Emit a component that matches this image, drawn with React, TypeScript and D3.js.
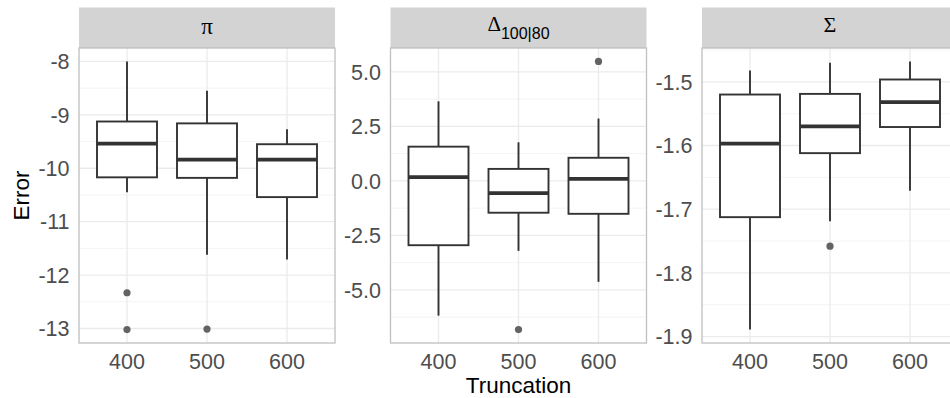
import React from "react";
import * as d3 from "d3";

// ---- Data ----
const truncations = ["400", "500", "600"];

// box stats per truncation: [lowerWhisker, q1, median, q3, upperWhisker]
const piBoxes = [
  [-10.45, -10.17, -9.54, -9.125, -8.0],
  [-11.62, -10.18, -9.84, -9.16, -8.55],
  [-11.71, -10.54, -9.84, -9.55, -9.27],
];
const piOutliers = [[-12.33, -13.02], [-13.01], []];
const piTicks = [-13, -12, -11, -10, -9, -8];

const deltaBoxes = [
  [-6.18, -2.95, 0.17, 1.57, 3.65],
  [-3.21, -1.46, -0.56, 0.55, 1.77],
  [-4.63, -1.51, 0.09, 1.06, 2.86],
];
const deltaOutliers = [[], [-6.82], [5.48]];
const deltaTicks = [-5, -2.5, 0, 2.5, 5];

const sigmaBoxes = [
  [-1.889, -1.7125, -1.597, -1.52, -1.4823],
  [-1.719, -1.612, -1.57, -1.519, -1.47],
  [-1.671, -1.571, -1.532, -1.4964, -1.468],
];
const sigmaOutliers = [[], [-1.758], []];
const sigmaTicks = [-1.9, -1.8, -1.7, -1.6, -1.5];

const facets = [
  { key: "pi", boxes: piBoxes, outliers: piOutliers, ticks: piTicks, fmt: (v: number) => d3.format("d")(v).replace("−", "-") },
  { key: "delta", boxes: deltaBoxes, outliers: deltaOutliers, ticks: deltaTicks, fmt: (v: number) => d3.format(".1f")(v).replace("−", "-") },
  { key: "sigma", boxes: sigmaBoxes, outliers: sigmaOutliers, ticks: sigmaTicks, fmt: (v: number) => d3.format(".1f")(v).replace("−", "-") },
];

// ---- Layout ----
const W = 950;
const H = 398;
const panelTop = 48;
const panelBottom = 343;
const stripTop = 7.5;
const panelLefts = [79, 390.5, 702];
const panelW = 256;

const SANS = "'Liberation Sans', Arial, Helvetica, sans-serif";
const SERIF = "'Liberation Serif', 'DejaVu Serif', serif";

function StripLabel({ k, cx }: { k: string; cx: number }) {
  const y = 34;
  if (k === "pi")
    return (
      <text x={cx} y={y} textAnchor="middle" fontFamily={SERIF} fontSize={23} fill="#000">
        π
      </text>
    );
  if (k === "sigma")
    return (
      <text x={cx} y={y - 2} textAnchor="middle" fontFamily={SERIF} fontSize={22} fill="#000">
        Σ
      </text>
    );
  return (
    <text x={cx} y={31} textAnchor="middle" fill="#000">
      <tspan fontFamily={SERIF} fontSize={21}>Δ</tspan>
      <tspan fontFamily={SANS} fontSize={16} dy={7.5}>100|80</tspan>
    </text>
  );
}

function Panel({ facet, left }: { facet: any; left: number }) {
  const x = d3.scalePoint<string>().domain(truncations).range([left, left + panelW]).padding(0.6);
  const all: number[] = [];
  facet.boxes.forEach((b: number[]) => all.push(...b));
  facet.outliers.forEach((o: number[]) => all.push(...o));
  const [mn, mx] = d3.extent(all) as [number, number];
  const pad = (mx - mn) * 0.05;
  const y = d3.scaleLinear().domain([mn - pad, mx + pad]).range([panelBottom, panelTop]);
  const ticks: number[] = facet.ticks;
  const stepT = ticks[1] - ticks[0];
  const minor: number[] = [];
  for (let i = -1; i < ticks.length; i++) {
    const m = ticks[0] + stepT * (i + 0.5);
    if (m >= mn - pad && m <= mx + pad) minor.push(m);
  }
  const bw = x.step() * 0.75;
  const cx = left + panelW / 2;

  return (
    <g>
      {/* strip */}
      <rect x={left} y={stripTop} width={panelW} height={panelTop - stripTop} fill="#D3D3D3" />
      <StripLabel k={facet.key} cx={cx} />
      {/* panel background */}
      <rect x={left} y={panelTop} width={panelW} height={panelBottom - panelTop} fill="#fff" />
      {/* minor grid */}
      {minor.map((m) => (
        <line key={"mi" + m} x1={left} x2={left + panelW} y1={y(m)} y2={y(m)} stroke="#F3F3F3" strokeWidth={0.9} />
      ))}
      {/* major grid */}
      {ticks.map((t) => (
        <line key={"ma" + t} x1={left} x2={left + panelW} y1={y(t)} y2={y(t)} stroke="#EBEBEB" strokeWidth={1.3} />
      ))}
      {truncations.map((c) => (
        <line key={"vx" + c} x1={x(c)} x2={x(c)} y1={panelTop} y2={panelBottom} stroke="#EBEBEB" strokeWidth={1.3} />
      ))}
      {/* boxes */}
      {truncations.map((c, i) => {
        const [lo, q1, med, q3, hi] = facet.boxes[i];
        const xc = x(c) as number;
        return (
          <g key={"b" + c}>
            <line x1={xc} x2={xc} y1={y(hi)} y2={y(q3)} stroke="#333" strokeWidth={1.9} />
            <line x1={xc} x2={xc} y1={y(q1)} y2={y(lo)} stroke="#333" strokeWidth={1.9} />
            <rect x={xc - bw / 2} y={y(q3)} width={bw} height={y(q1) - y(q3)} fill="#fff" stroke="#333" strokeWidth={1.9} />
            <line x1={xc - bw / 2} x2={xc + bw / 2} y1={y(med)} y2={y(med)} stroke="#333" strokeWidth={3.8} />
            {facet.outliers[i].map((o: number, j: number) => (
              <circle key={"o" + j} cx={xc} cy={y(o)} r={3.6} fill="#636363" />
            ))}
          </g>
        );
      })}
      {/* border */}
      <rect x={left} y={panelTop} width={panelW} height={panelBottom - panelTop} fill="none" stroke="#BFBFBF" strokeWidth={1.3} />
      {/* y tick labels */}
      {ticks.map((t) => (
        <text key={"yl" + t} x={left - 9.5} y={y(t)} dy="0.36em" textAnchor="end" fontFamily={SANS} fontSize={21.5} fill="#4D4D4D">
          {facet.fmt(t)}
        </text>
      ))}
      {/* x tick labels */}
      {truncations.map((c) => (
        <text key={"xl" + c} x={x(c)} y={368.5} textAnchor="middle" fontFamily={SANS} fontSize={21.5} fill="#4D4D4D">
          {c}
        </text>
      ))}
    </g>
  );
}

export default function App() {
  return (
    <svg width={W} height={H} style={{ position: "absolute", left: 0, top: 0, background: "#fff" }}>
      <rect width={W} height={H} fill="#fff" />
      {facets.map((f, i) => (
        <Panel key={f.key} facet={f} left={panelLefts[i]} />
      ))}
      <text x={518.5} y={393} textAnchor="middle" fontFamily={SANS} fontSize={22.5} fill="#000">
        Truncation
      </text>
      <text transform={`translate(28.5,195.5) rotate(-90)`} textAnchor="middle" fontFamily={SANS} fontSize={22.5} fill="#000">
        Error
      </text>
    </svg>
  );
}
